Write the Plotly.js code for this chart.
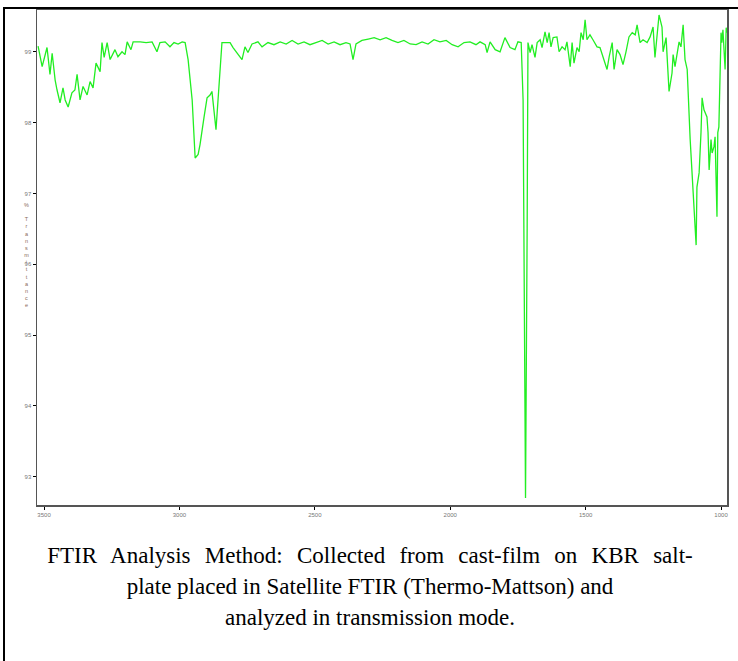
<!DOCTYPE html>
<html>
<head>
<meta charset="utf-8">
<script src="https://cdn.plot.ly/plotly-3.0.1.min.js"></script>
<style>
  html, body { margin: 0; padding: 0; background: #fff; }
  #wrap { position: relative; width: 738px; height: 661px; overflow: hidden; }
  #chart { position: absolute; left: 0; top: 0; width: 738px; height: 661px; }
  .frameTop { position: absolute; left: 3px; top: 7px; width: 735px; height: 2px; background: #000; }
  .frameLeft { position: absolute; left: 3px; top: 7px; width: 2px; height: 654px; background: #000; }
  #caption { position: absolute; left: 0; top: 540px; width: 740px; text-align: center;
             font-family: 'Liberation Serif', 'Times New Roman', serif; font-size: 23px;
             line-height: 31px; color: #000; }
  #caption div { white-space: nowrap; }
</style>
</head>
<body>
<div id="wrap">
  <div id="chart"></div>
  <div class="frameTop"></div>
  <div class="frameLeft"></div>
  <div id="caption"></div>
</div>
<script>
// Wavenumber (cm-1)
const wavenumber = [
  3522, 3507, 3489, 3478, 3470, 3459, 3452, 3441, 3430, 3422, 3411, 3397, 3386, 3378, 3367, 3356,
  3341, 3330, 3319, 3308, 3293, 3286, 3278, 3267, 3256, 3238, 3227, 3212, 3201, 3193, 3179, 3171,
  3145, 3123, 3101, 3083, 3072, 3053, 3035, 3020, 3005, 2990, 2979,
  2968, 2953, 2942, 2931, 2924, 2909, 2898, 2887, 2880, 2865, 2857, 2843,
  2813, 2802, 2769, 2758, 2747,
  2732, 2710, 2695, 2673, 2651, 2628, 2606, 2584, 2562, 2540, 2518, 2496, 2473, 2451, 2429, 2407,
  2385, 2370, 2359, 2348, 2326, 2303, 2281, 2259, 2237, 2215, 2193, 2171, 2148, 2126, 2104, 2082,
  2060, 2038, 2015, 1993, 1971, 1949, 1927, 1905,
  1890, 1871, 1864, 1853, 1834, 1816, 1798, 1779, 1761, 1750, 1738, 1731, 1727, 1722, 1716, 1713,
  1705, 1698, 1687, 1679, 1668, 1661, 1650, 1642, 1635, 1628, 1620, 1606, 1598, 1587, 1576, 1569,
  1557, 1550, 1543, 1532, 1524, 1517, 1509, 1502, 1495, 1484, 1473, 1458, 1447, 1436, 1421, 1413,
  1402, 1395, 1384, 1373, 1362, 1351, 1340, 1328, 1317, 1310, 1299, 1288, 1273, 1262, 1251, 1244,
  1236, 1229, 1218, 1214, 1203, 1196, 1192, 1181, 1177, 1170, 1162, 1155, 1148, 1140, 1133, 1125,
  1114, 1103, 1100, 1092, 1089, 1081, 1074, 1070, 1063, 1052, 1048, 1044, 1037, 1033, 1026, 1022,
  1015, 1012, 1008, 1000, 997, 993, 985, 981, 978
];
// % Transmittance
const transmittance = [
  99.08, 98.79, 99.06, 98.68, 98.98, 98.60, 98.46, 98.28, 98.49, 98.32, 98.22, 98.42, 98.46, 98.68, 98.32, 98.51,
  98.39, 98.58, 98.49, 98.84, 98.72, 99.13, 98.92, 99.13, 98.89, 99.03, 98.93, 99.00, 98.96, 99.14, 99.03, 99.14,
  99.14, 99.13, 99.14, 99.00, 99.13, 99.14, 99.07, 99.13, 99.11, 99.14, 99.13,
  98.89, 98.32, 97.50, 97.55, 97.69, 98.08, 98.35, 98.39, 98.44, 97.90, 98.32, 99.13,
  99.13, 99.06, 98.89, 99.07, 98.99,
  99.11, 99.14, 99.07, 99.13, 99.10, 99.14, 99.11, 99.16, 99.11, 99.14, 99.10, 99.13, 99.16, 99.11, 99.14, 99.10,
  99.13, 99.11, 98.89, 99.11, 99.16, 99.18, 99.20, 99.17, 99.20, 99.16, 99.13, 99.16, 99.11, 99.10, 99.14, 99.11,
  99.17, 99.14, 99.16, 99.10, 99.07, 99.13, 99.14, 99.10,
  99.14, 99.10, 98.99, 99.14, 99.03, 99.00, 99.20, 99.06, 99.03, 99.14, 99.13, 98.32, 96.09, 92.70, 96.50, 99.13,
  98.99, 99.10, 98.92, 99.13, 99.17, 99.06, 99.28, 99.13, 99.27, 99.07, 99.20, 99.21, 99.00, 99.07, 99.03, 99.14,
  98.79, 99.13, 98.84, 99.06, 99.00, 99.27, 99.17, 99.45, 99.17, 99.24, 99.17, 99.07, 99.06, 98.93, 98.75, 98.93,
  99.13, 98.75, 99.03, 98.96, 98.82, 99.00, 99.21, 99.27, 99.24, 99.38, 99.13, 99.17, 99.13, 99.21, 99.35, 98.92,
  99.27, 99.52, 99.35, 99.00, 99.20, 98.70, 98.44, 98.70, 98.96, 98.79, 98.99, 99.14, 99.07, 99.38, 98.89, 98.75,
  97.76, 97.01, 96.91, 96.27, 97.09, 97.29, 97.86, 98.35, 98.18, 98.08, 97.86, 97.33, 97.76, 97.57, 97.66, 97.80,
  96.67, 97.86, 97.94, 99.27, 99.13, 99.31, 98.75, 99.34, 99.27
];
const yTicks = [93, 94, 95, 96, 97, 98, 99];
const xTicks = [3500, 3000, 2500, 2000, 1500, 1000];
const yTitleLetters = ["%", "", "T", "r", "a", "n", "s", "m", "i", "t", "t", "a", "n", "c", "e"];
const captionLines = [
  "FTIR Analysis Method: Collected from cast-film on KBR salt-",
  "plate placed in Satellite FTIR (Thermo-Mattson) and",
  "analyzed in transmission mode."
];

// caption as real text
const cap = document.getElementById('caption');
captionLines.forEach((t, i) => {
  const d = document.createElement('div');
  d.textContent = t;
  if (i === 0) d.style.wordSpacing = '8.5px';
  cap.appendChild(d);
});

const trace = {
  x: wavenumber,
  y: transmittance,
  type: 'scatter',
  mode: 'lines',
  line: { color: '#22ee22', width: 1.3 },
  hoverinfo: 'skip'
};

const layout = {
  width: 738, height: 661,
  margin: { l: 37, r: 11, t: 10, b: 156, pad: 0 },
  paper_bgcolor: '#fff', plot_bgcolor: '#fff',
  showlegend: false,
  xaxis: {
    range: [3526, 978], tickvals: xTicks, ticktext: xTicks.map(String),
    showgrid: false, zeroline: false, showline: true, mirror: true,
    linecolor: '#555', linewidth: 1.5, ticks: 'outside', ticklen: 3, tickcolor: '#000', tickwidth: 1,
    tickfont: { family: 'Liberation Sans, Arial, sans-serif', size: 6, color: '#777' }
  },
  yaxis: {
    range: [92.6, 99.59], tickvals: yTicks, ticktext: yTicks.map(String),
    showgrid: false, zeroline: false, showline: true, mirror: true,
    linecolor: '#555', linewidth: 1.5, ticks: 'outside', ticklen: 3, tickcolor: '#000', tickwidth: 1,
    tickfont: { family: 'Liberation Sans, Arial, sans-serif', size: 6, color: '#777' }
  },
  annotations: [{
    text: yTitleLetters.join('<br>'), xref: 'paper', yref: 'paper', x: -0.015, y: 0.505,
    xanchor: 'center', yanchor: 'middle', showarrow: false, align: 'center',
    font: { family: 'Liberation Sans, Arial, sans-serif', size: 5.5, color: '#8a6a5a' }
  }]
};

Plotly.newPlot('chart', [trace], layout, { displayModeBar: false, staticPlot: true });
</script>
</body>
</html>
